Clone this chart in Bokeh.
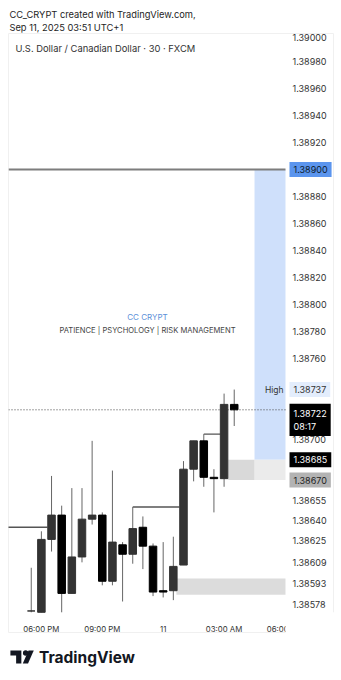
from bokeh.plotting import figure
from bokeh.models import Range1d, FixedTicker, Label, NumeralTickFormatter, ColumnDataSource
from bokeh.layouts import column
from bokeh.embed import file_html
from bokeh.resources import INLINE
from bokeh.core.properties import value

# ---------------- data ----------------
times = ["17:30", "18:00", "18:30", "19:00", "19:30", "20:00", "20:30", "21:00", "21:30", "22:00", "22:30",
         "23:00", "23:30", "00:00", "00:30", "01:00", "01:30", "02:00", "02:30", "03:00", "03:30"]
opens = [1.38573, 1.38572, 1.38626, 1.38644, 1.38586, 1.38613, 1.38641, 1.38644, 1.38595, 1.38622, 1.38615,
         1.38635, 1.38621, 1.38588, 1.38588, 1.38607, 1.38678, 1.38699, 1.38672, 1.38671, 1.38726]
highs = [1.38605, 1.38632, 1.38673, 1.38651, 1.38664, 1.38664, 1.38699, 1.38646, 1.38677, 1.38624, 1.38650,
         1.38643, 1.38623, 1.38624, 1.38628, 1.38684, 1.38699, 1.38704, 1.38678, 1.38734, 1.38737]
lows = [1.38572, 1.38572, 1.38617, 1.38572, 1.38586, 1.38609, 1.38637, 1.38592, 1.38592, 1.38580, 1.38608,
        1.38604, 1.38584, 1.38583, 1.38581, 1.38607, 1.38669, 1.38665, 1.38646, 1.38665, 1.38710]
closes = [1.38573, 1.38626, 1.38644, 1.38586, 1.38613, 1.38641, 1.38644, 1.38595, 1.38624, 1.38615, 1.38634,
          1.38621, 1.38587, 1.38587, 1.38606, 1.38678, 1.38699, 1.38672, 1.38671, 1.38726, 1.38722]

price_ticks = [1.39000, 1.38980, 1.38960, 1.38940, 1.38920, 1.38900, 1.38880, 1.38860, 1.38840, 1.38820,
               1.38800, 1.38780, 1.38760, 1.38700, 1.38655, 1.38640, 1.38625, 1.38609, 1.38593, 1.38578]
time_tick_pos = [1, 7, 13, 19, 25]
time_tick_labels = ["06:00 PM", "09:00 PM", "11", "03:00 AM", "06:00 AM"]

# structure lines (level, from bar, to bar)
bos_levels = [1.38635, 1.38650, 1.38704]
bos_start = [-2.3, 10, 17]
bos_end = [1.6, 14.6, 18.65]

# zones: left bar, top, bottom, colour (most run to the price scale)
zone_left = [22.0, 22.0, 19.4, 14.3]
zone_right_is_scale = [True, True, False, True]
zone_right_bar = [None, None, 22.0, None]
zone_top = [1.38900, 1.38685, 1.38685, 1.38597]
zone_bottom = [1.38685, 1.38670, 1.38670, 1.38585]
zone_color = ["#cfe0fb", "#ebebeb", "#d9d9d9", "#dcdcdc"]

target_price = 1.38900
entry_price = 1.38685
stop_price = 1.38670
last_price = 1.38722
last_countdown = "08:17"
high_price = 1.38737

FONT = "Inter"
TXT = "#333333"
X_START, X_END = -2.24, 29.78      # view range in bars
SCALE_EDGE = 25.05                 # where the price scale begins (in bars)
Y_START, Y_END = 1.3855704, 1.3900074
STRIP_X = -7                       # horizontal correction for the header / logo strips

# ---------------- header strip ----------------
h = figure(width=341, height=33, output_backend="svg", toolbar_location=None,
           x_axis_type=None, y_axis_type=None,
           x_range=Range1d(0, 341), y_range=Range1d(33, 0), min_border=0,
           outline_line_color=None, background_fill_color="white", border_fill_color="white")
h.grid.visible = False
h.text(x=[8 + STRIP_X, 8 + STRIP_X], y=[14, 27],
       text=["CC_CRYPT created with TradingView.com,", "Sep 11, 2025 03:51 UTC+1"],
       text_font=value(FONT), text_font_size="9.3px", text_color="#1e1e1e", text_baseline="middle")

# ---------------- main chart ----------------
idx = list(range(len(times)))
bull = [c >= o for o, c in zip(opens, closes)]
src = ColumnDataSource(dict(
    x=idx, open=opens, high=highs, low=lows, close=closes,
    top=[max(o, c) for o, c in zip(opens, closes)],
    bottom=[min(o, c) for o, c in zip(opens, closes)],
    color=["#333333" if b else "#000000" for b in bull],
))

p = figure(width=341, height=612, output_backend="svg", toolbar_location=None,
           x_range=Range1d(X_START, X_END), y_range=Range1d(Y_START, Y_END),
           y_axis_location="right", min_border_left=8, min_border_right=8,
           min_border_top=0, min_border_bottom=13, background_fill_color="white",
           border_fill_color="white", outline_line_color="#f0f0f0")
p.grid.visible = False

yax = p.yaxis[0]
yax.ticker = FixedTicker(ticks=price_ticks)
yax.formatter = NumeralTickFormatter(format="0.00000")
yax.axis_line_color = None
yax.major_tick_line_color = None
yax.minor_tick_line_color = None
yax.major_label_standoff = -47
yax.major_label_text_font = FONT
yax.major_label_text_font_size = "9px"
yax.major_label_text_color = TXT

xax = p.xaxis[0]
xax.ticker = FixedTicker(ticks=time_tick_pos)
xax.major_label_overrides = dict(zip(time_tick_pos, time_tick_labels))
xax.axis_line_color = None
xax.major_tick_line_color = None
xax.minor_tick_line_color = None
xax.major_label_standoff = -15
xax.major_label_text_font = FONT
xax.major_label_text_font_size = "7.8px"
xax.major_label_text_color = TXT

# zones
p.quad(left=zone_left,
       right=[SCALE_EDGE if s else r for s, r in zip(zone_right_is_scale, zone_right_bar)],
       top=zone_top, bottom=zone_bottom, fill_color=zone_color, line_color=None)

# price lines (end at the price scale)
p.segment(x0=[X_START], y0=[target_price], x1=[SCALE_EDGE], y1=[target_price],
          line_color="#7d7d7d", line_width=2)
p.segment(x0=[X_START], y0=[last_price], x1=[SCALE_EDGE], y1=[last_price],
          line_color="#444444", line_width=1, line_dash="1 2")

# structure lines
p.segment(x0=bos_start, y0=bos_levels, x1=bos_end, y1=bos_levels, line_color="#555555", line_width=1.3)

# candles
p.segment(x0="x", y0="high", x1="x", y1="low", source=src, line_color="#666666", line_width=1)
p.vbar(x="x", width=0.74, top="top", bottom="bottom", source=src, fill_color="color",
       line_color="color", line_width=1)

# mask: the time scale is clipped by the price scale
mask = p.quad(left=[SCALE_EDGE], right=[X_END + 1], top=[1.38572], bottom=[Y_START - 0.0001],
              fill_color="white", line_color=None)
mask.level = "overlay"

# legend / watermark
def lab(x, y, text, size, color=TXT, align="left"):
    p.add_layout(Label(x=x, y=y, x_units="screen", y_units="screen", text=text,
                       text_font=FONT, text_font_size=size, text_color=color,
                       text_align=align, text_baseline="middle"))

lab(7, 584, "U.S. Dollar / Canadian Dollar \u00b7 30 \u00b7 FXCM", "9.4px", "#333333")
lab(139, 316, "CC CRYPT", "8px", "#5b8fd8", align="center")
lab(139, 302, "PATIENCE | PSYCHOLOGY | RISK MANAGEMENT", "7.6px", "#444444", align="center")

# price scale boxes
def pbox(price, text, bg, fg):
    p.add_layout(Label(x=281, y=price, x_units="screen", y_units="data", text=text,
                       text_font=FONT, text_font_size="9px", text_color=fg,
                       text_align="left", text_baseline="middle", background_fill_color=bg,
                       padding=4))

pbox(target_price, "%.5f" % target_price, "#5b95ee", "#0d1b2a")
pbox(high_price, "%.5f" % high_price, "#e3edfc", "#333333")
pbox(entry_price, "%.5f" % entry_price, "#000000", "#ffffff")
pbox(stop_price, "%.5f" % stop_price, "#b3b3b3", "#222222")
p.add_layout(Label(x=281, y=last_price, x_units="screen", y_units="data", y_offset=6,
                   text="%.5f\n%s" % (last_price, last_countdown), text_font=FONT,
                   text_font_size="9px", text_color="white", text_align="left", text_baseline="top",
                   background_fill_color="black", padding=4))
p.add_layout(Label(x=275, y=high_price, x_units="screen", y_units="data", text="High",
                   text_font=FONT, text_font_size="8.5px", text_color="#333333",
                   text_align="right", text_baseline="middle"))

# ---------------- logo strip ----------------
q = figure(width=341, height=35, output_backend="svg", toolbar_location=None,
           x_axis_type=None, y_axis_type=None,
           x_range=Range1d(0, 341), y_range=Range1d(35, 0), min_border=0,
           outline_line_color=None, background_fill_color="white", border_fill_color="white")
q.grid.visible = False
logo_xs = [[9, 20.5, 20.5, 15, 15, 9], [28, 33.5, 27.5, 22]]
q.patches(xs=[[v + STRIP_X for v in s] for s in logo_xs],
          ys=[[5, 5, 18, 18, 10, 10], [5, 5, 18, 18]], fill_color="#131722", line_color=None)
q.scatter(x=[25 + STRIP_X], y=[7.5], size=5.5, fill_color="#131722", line_color=None)
q.text(x=[39 + STRIP_X], y=[11.5], text=["TradingView"], text_font=value(FONT), text_font_size="15.5px",
       text_font_style="bold", text_color="#131722", text_baseline="middle")

open("out.html", "w").write(file_html(column(h, p, q, spacing=0), INLINE))
